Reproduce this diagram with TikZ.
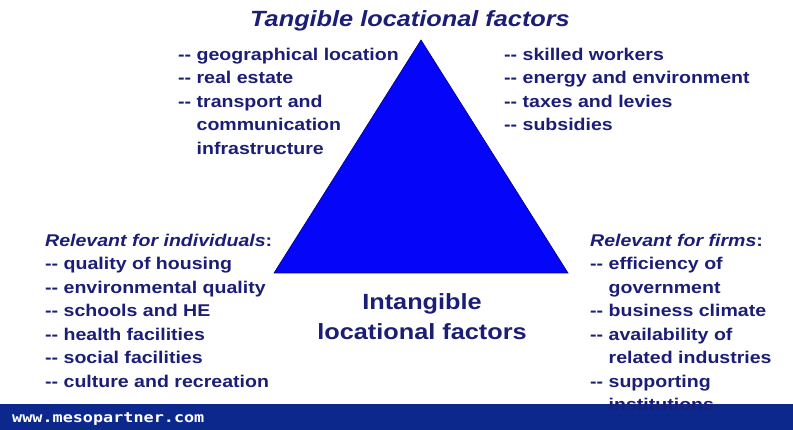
\documentclass[tikz,border=0pt]{standalone}
\usepackage{fontspec}
\setmainfont[FakeStretch=1.15]{Liberation Sans}
\newfontfamily\urlfont[FakeStretch=1.2]{DejaVu Sans Mono}
\usepackage{tikz}
\usetikzlibrary{positioning}
\definecolor{navytext}{RGB}{28,30,118}
\definecolor{pyrblue}{RGB}{5,5,250}
\definecolor{barblue}{RGB}{12,40,140}
\newcommand{\dd}{-{}-\ }
\newcommand{\ind}{\hphantom{-{}-\ }}
\tikzset{
  heading/.style={
    font=\fontsize{22}{26}\selectfont\bfseries\itshape,
    text=navytext, inner sep=0pt
  },
  factorlist/.style={
    font=\fontsize{17}{23.5}\selectfont\bfseries,
    text=navytext, align=left, inner sep=0pt, anchor=north west
  },
  centrelabel/.style={
    font=\fontsize{22}{30}\selectfont\bfseries,
    text=navytext, align=center, inner sep=0pt
  },
  pyramid/.style={fill=pyrblue, draw=blue!50!black, line width=0.6pt},
  footbar/.style={fill=barblue, draw=none},
}

\begin{document}
\begin{tikzpicture}[x=1pt, y=-1pt]
  \useasboundingbox (0,0) rectangle (793,430);
  \fill[white] (0,0) rectangle (793,430);

  % footer
  \fill[footbar] (0,404) rectangle (793,430);
  \node[anchor=base west, inner sep=0pt, text=white,
        font=\urlfont\fontsize{14}{16}\selectfont\bfseries] (url) at (12,422)
    {www.mesopartner.com};

  % the triangle
  \coordinate (top) at (421,40);
  \coordinate (bl) at (274,273);
  \coordinate (br) at (568,273);
  \draw[pyramid] (top) -- (bl) -- (br) -- cycle;

  \node[heading, anchor=base] (title) at (410,27) {Tangible locational factors};

  \node[factorlist] (tangleft) at (178,47.6) {%
    \dd geographical location\\
    \dd real estate\\
    \dd transport and\\
    \ind communication\\
    \ind infrastructure};
  \node[factorlist] (tangright) at (504,47.6) {%
    \dd skilled workers\\
    \dd energy and environment\\
    \dd taxes and levies\\
    \dd subsidies};

  \node[centrelabel, anchor=north] (intang) at (422,293) {%
    Intangible\\
    locational factors};

  \node[factorlist] (individuals) at (45,233.6) {%
    \textit{Relevant for individuals}:\\
    \dd quality of housing\\
    \dd environmental quality\\
    \dd schools and HE\\
    \dd health facilities\\
    \dd social facilities\\
    \dd culture and recreation};
  \node[factorlist] (firms) at (590,233.6) {%
    \textit{Relevant for firms}:\\
    \dd efficiency of\\
    \ind government\\
    \dd business climate\\
    \dd availability of\\
    \ind related industries\\
    \dd supporting\\
    \ind institutions};
\end{tikzpicture}
\end{document}
